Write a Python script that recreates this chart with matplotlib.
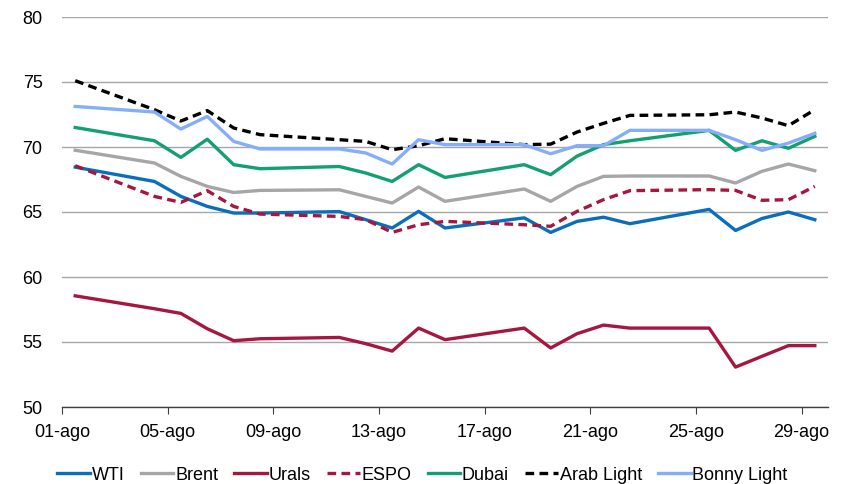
import matplotlib
matplotlib.use("Agg")
import matplotlib.pyplot as plt

plt.rcParams['font.family'] = ['Liberation Sans', 'DejaVu Sans']

days = [1, 4, 5, 6, 7, 8, 11, 12, 13, 14, 15, 18, 19, 20, 21, 22, 25, 26, 27, 28, 29]
tick_days = [1, 5, 9, 13, 17, 21, 25, 29]
tick_labels = ["01-ago", "05-ago", "09-ago", "13-ago", "17-ago", "21-ago", "25-ago", "29-ago"]

wti = [68.45, 67.35, 66.2, 65.43, 64.92, 64.92, 65.03, 64.41, 63.77, 65.05, 63.77,
       64.55, 63.43, 64.28, 64.6, 64.1, 65.2, 63.58, 64.5, 65.0, 64.41]
brent = [69.75, 68.77, 67.74, 66.97, 66.5, 66.66, 66.71, 66.2, 65.69, 66.92, 65.82,
         66.77, 65.82, 66.97, 67.74, 67.77, 67.77, 67.23, 68.13, 68.69, 68.18]
urals = [58.55, 57.56, 57.2, 56.02, 55.1, 55.25, 55.35, 54.87, 54.3, 56.07, 55.18,
         56.07, 54.54, 55.64, 56.3, 56.07, 56.07, 53.07, 53.9, 54.72, 54.72]
espo = [68.56, 66.2, 65.74, 66.64, 65.43, 64.84, 64.66, 64.41, 63.43, 64.02, 64.28,
        64.02, 63.9, 65.05, 65.95, 66.64, 66.72, 66.66, 65.9, 65.95, 66.97]
dubai = [71.5, 70.48, 69.2, 70.6, 68.64, 68.33, 68.5, 68.0, 67.35, 68.64, 67.66,
         68.64, 67.87, 69.3, 70.18, 70.48, 71.28, 69.74, 70.48, 69.9, 70.82]
arab_light = [75.1, 72.87, 72.0, 72.8, 71.46, 70.95, 70.56, 70.43, 69.79, 70.1, 70.64,
              70.18, 70.22, 71.15, 71.82, 72.43, 72.48, 72.69, 72.23, 71.64, 72.87]
bonny_light = [73.12, 72.69, 71.38, 72.35, 70.43, 69.85, 69.85, 69.54, 68.69, 70.56, 70.18,
               70.18, 69.48, 70.1, 70.1, 71.28, 71.28, 70.56, 69.74, 70.3, 71.05]

series = [
    ("WTI", wti, "#0A6EBD", "-"),
    ("Brent", brent, "#A6A6A6", "-"),
    ("Urals", urals, "#A6173F", "-"),
    ("ESPO", espo, "#A6173F", "--"),
    ("Dubai", dubai, "#12A06E", "-"),
    ("Arab Light", arab_light, "#000000", "--"),
    ("Bonny Light", bonny_light, "#84AEFA", "-"),
]

fig = plt.figure(figsize=(8.45, 4.84), dpi=100)
ax = fig.add_axes([62 / 845, 1 - 407 / 484, (828 - 62) / 845, (407 - 17) / 484])

xs = [d + 0.5 for d in days]
for name, vals, color, ls in series:
    if ls == "--":
        ax.plot(xs, vals, color=color, lw=2.4, ls=(0, (2.6, 1.6)), label=name,
                dash_capstyle='butt')
    else:
        ax.plot(xs, vals, color=color, lw=2.4, ls=ls, label=name)

ax.set_xlim(1, 30)
ax.set_ylim(50, 80)
ax.set_yticks([50, 55, 60, 65, 70, 75, 80])
ax.set_xticks(tick_days)
ax.set_xticklabels(tick_labels)
ax.yaxis.grid(True, color="#A6A6A6", lw=1.0)
ax.set_axisbelow(True)
for s in ["top", "right", "left"]:
    ax.spines[s].set_visible(False)
ax.spines["bottom"].set_color("#404040")
ax.spines["bottom"].set_linewidth(1.0)
ax.tick_params(axis="y", length=0, labelsize=13, pad=14, colors="#000000")
ax.tick_params(axis="x", length=5, direction="out", color="#404040", labelsize=13, pad=7)

leg = fig.legend(loc="center", bbox_to_anchor=(0.5, 1 - 475 / 484), ncol=7, frameon=False,
                 fontsize=13, handlelength=1.8, handletextpad=0.1, columnspacing=0.9)

fig.savefig("out.png", dpi=100)
